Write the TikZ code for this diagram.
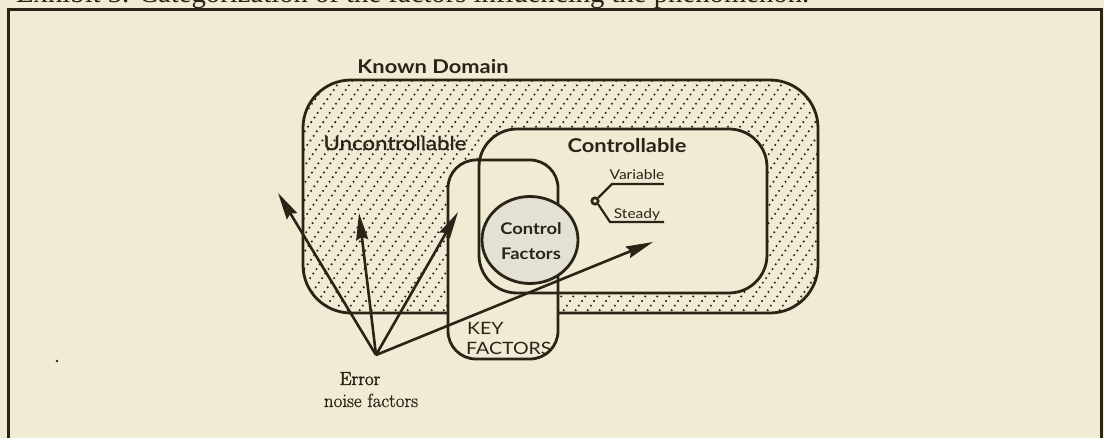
\documentclass[tikz,border=0pt]{standalone}
\usepackage{fontspec}
\newfontfamily\lbl[FakeStretch=1.15]{Lato}
\newfontfamily\lblmed[FakeStretch=1.17,FakeBold=1.2]{Lato}
\newfontfamily\ser[FakeBold=1]{Latin Modern Roman}
\newfontfamily\serb[FakeBold=2.2]{Latin Modern Roman}
\newfontfamily\ttl{Liberation Serif}
\usetikzlibrary{arrows.meta,shapes.geometric}
\definecolor{bg}{RGB}{240,235,213}
\definecolor{ink}{RGB}{42,35,22}
\definecolor{circfill}{RGB}{226,225,212}
\tikzset{
  region/.style={draw=ink, line width=2.8pt, inner sep=0pt, outer sep=0pt},
  hatchline/.style={ink, line width=2.3pt, line cap=round, dash pattern=on 0pt off 5.6pt},
  noisearrow/.style={ink, line width=2.6pt, -{Stealth[length=27pt,width=12pt,inset=3pt]}},
  boldlbl/.style={text=ink, inner sep=0pt, font=\lbl\bfseries\fontsize{19}{19}\selectfont},
  medlbl/.style={text=ink, inner sep=0pt, font=\lblmed\fontsize{19}{19}\selectfont},
  plainlbl/.style={text=ink, inner sep=0pt, font=\lbl\fontsize{17}{17}\selectfont},
  smalllbl/.style={text=ink, inner sep=0pt, font=\lbl\fontsize{13.5}{13.5}\selectfont},
  cflbl/.style={text=ink, inner sep=0pt, font=\lbl\bfseries\fontsize{16}{16}\selectfont},
  bracket/.style={draw=ink, line width=2.2pt},
}
\begin{document}
\begin{tikzpicture}[x=1pt,y=-1pt]
\useasboundingbox (0,0) rectangle (1104,438);
\fill[bg] (0,0) rectangle (1104,438);
% title (cut off by the top edge)
\node[anchor=base west, inner sep=0pt, text=ink, font=\ttl\fontsize{28.7}{28.7}\selectfont] (title) at (16,3) {Exhibit 3. Categorization of the factors influencing the phenomenon.};
% frame
\draw[ink, line width=3pt] (8,470) -- (8,10) -- (1101.5,10) -- (1101.5,470);
% known domain with hatch
\node[region, draw=none, minimum width=515pt, minimum height=233pt, rounded corners=48pt] (known) at (560.5,196.5) {};
\begin{scope}
  \clip[rounded corners=48pt] (known.north west) rectangle (known.south east);
  \foreach \c in {110,122,...,830} \draw[hatchline] (\c,324) -- ++(177,-253);
\end{scope}
\draw[ink, line width=2.8pt, rounded corners=48pt] (known.north west) rectangle (known.south east);
% controllable and key factors
\fill[bg, rounded corners=38pt] (479,129) rectangle (767,293);
\fill[bg, rounded corners=28pt] (448,160) rectangle (558,359);
\node[region, minimum width=288pt, minimum height=164pt, rounded corners=38pt] (ctrl) at (623,211) {};
\node[region, minimum width=110pt, minimum height=199pt, rounded corners=28pt] (key) at (503,259.5) {};
% control factors circle
\node[region, fill=circfill, ellipse, minimum width=96pt, minimum height=87pt] (cf) at (530,240) {};
% labels
\node[boldlbl, anchor=base] (lknown) at (433,74) {Known Domain};
\node[medlbl, anchor=base] (lunc) at (395,150) {Uncontrollable};
\node[boldlbl, anchor=base] (lctrl) at (627,153) {Controllable};
\node[smalllbl, anchor=base] (lvar) at (637,180) {Variable};
\node[smalllbl, anchor=base] (lst) at (637,219) {Steady};
\node[cflbl, anchor=base] (lcon) at (531,235) {Control};
\node[cflbl, anchor=base] (lfac) at (531,260) {Factors};
\node[plainlbl, anchor=base west] (lkey) at (467,335) {KEY};
\node[plainlbl, anchor=base west] (lkf) at (466,355) {FACTORS};
\node[text=ink, inner sep=0pt, font=\serb\fontsize{19}{19}\selectfont, anchor=base] (lerr) at (360,385) {Error};
\node[text=ink, inner sep=0pt, font=\ser\fontsize{19}{19}\selectfont, anchor=base] (lnoise) at (371,407) {noise factors};
% variable / steady bracket
\coordinate (v1) at (612,184); \coordinate (v2) at (664,184);
\coordinate (s1) at (610,222); \coordinate (s2) at (664,222);
\coordinate (knob) at (595,201);
\draw[bracket] (v2) -- (v1) -- (598,198);
\draw[bracket] (s2) -- (s1) -- (598,204);
\draw[ink, line width=2.6pt, fill=bg] (knob) circle (3.2pt);
% noise arrows
\coordinate (e) at (376,355);
\coordinate (t1) at (278,193);
\coordinate (t2) at (359,213);
\coordinate (t3) at (458,212);
\coordinate (t4) at (653,242);
\draw[noisearrow] (e) -- (t1);
\draw[noisearrow] (e) -- (t2);
\draw[noisearrow] (e) -- (t3);
\draw[noisearrow] (e) -- (t4);
% stray dot
\fill[ink] (57,361) circle (1.4pt) coordinate (dot);
\end{tikzpicture}
\end{document}
